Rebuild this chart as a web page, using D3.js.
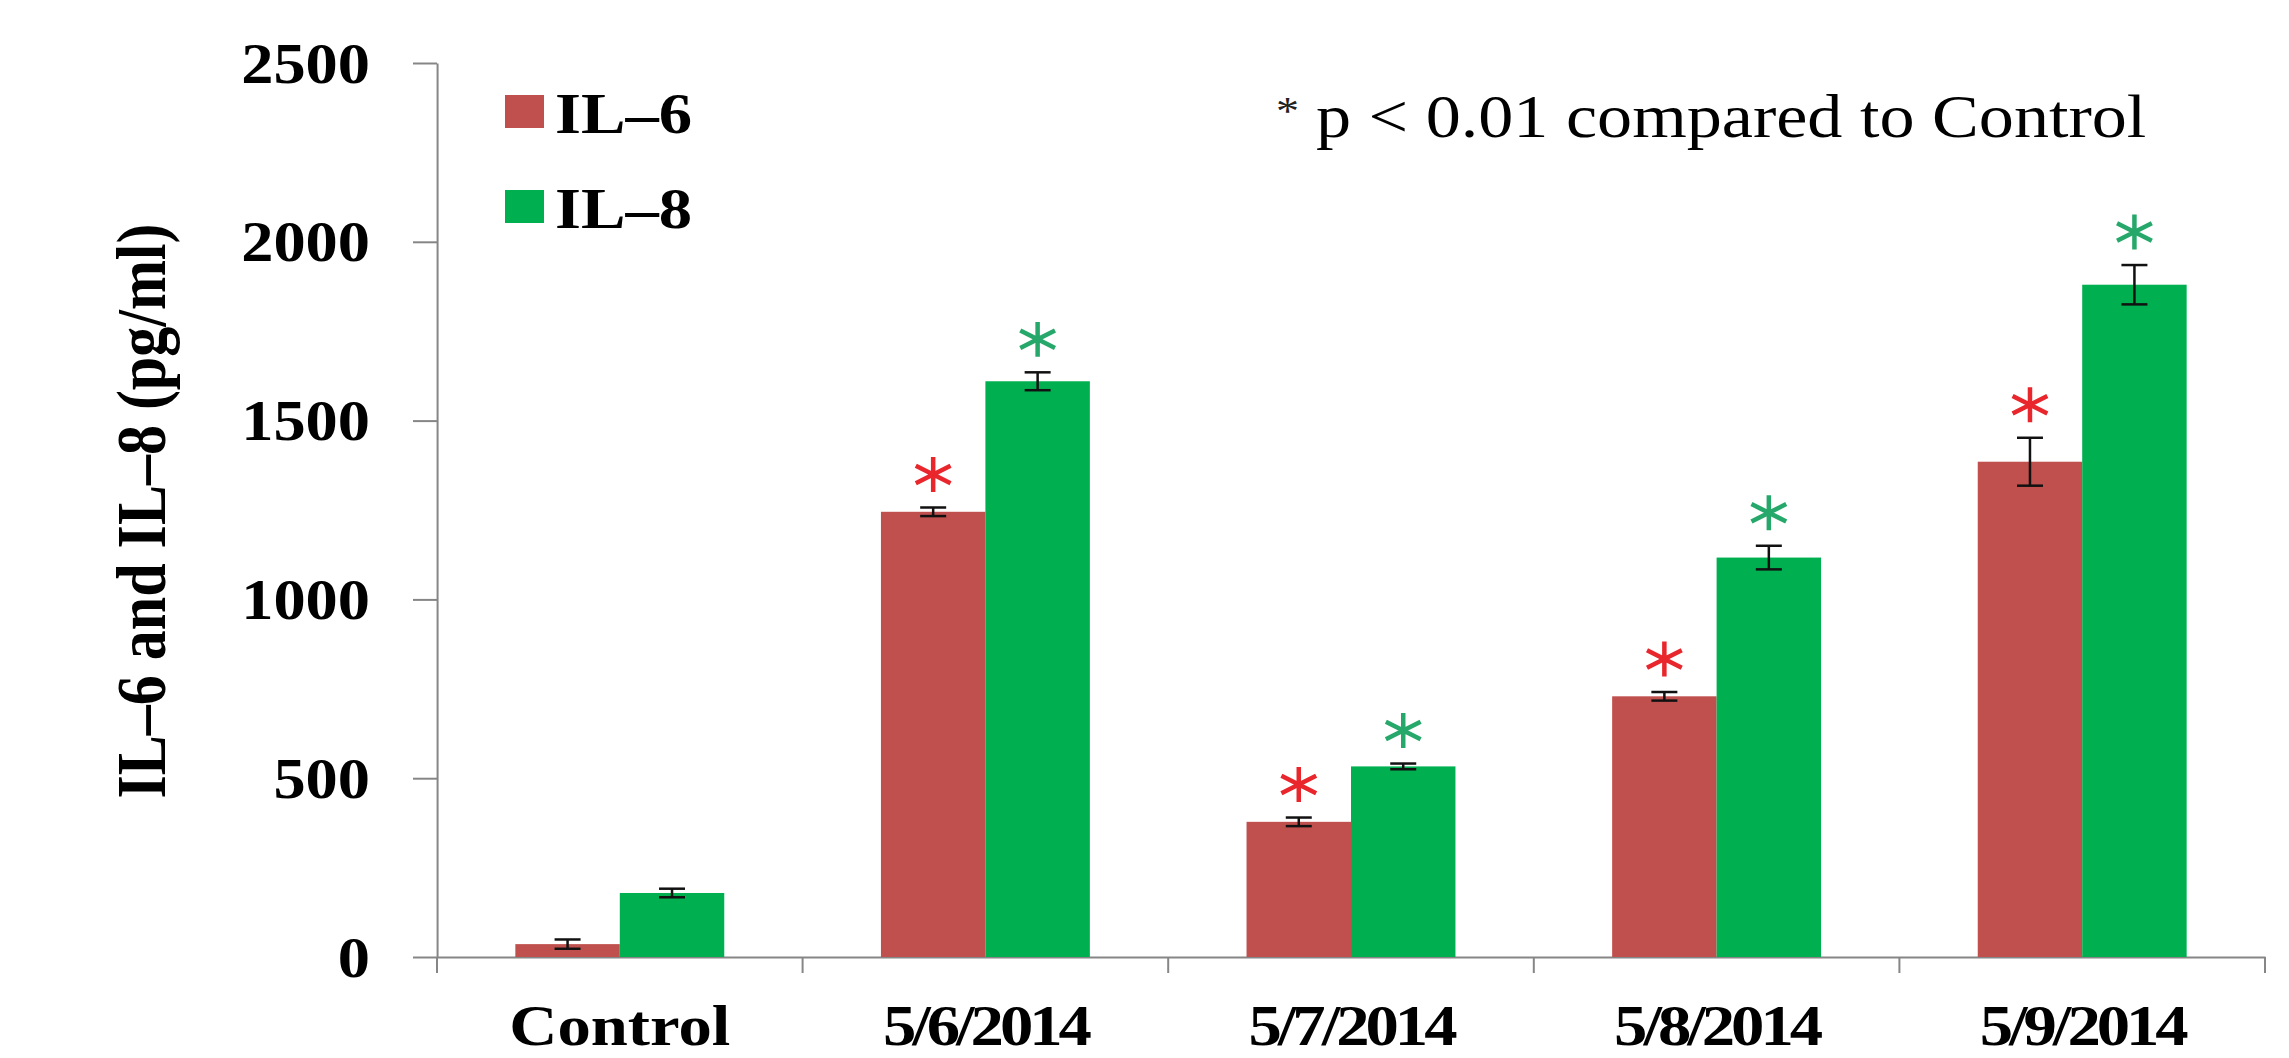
<!DOCTYPE html>
<html>
<head>
<meta charset="utf-8">
<script src="https://cdn.jsdelivr.net/npm/d3@7"></script>
<style>
  html, body { margin: 0; padding: 0; background: #fff; overflow: hidden; }
  svg { display: block; }
</style>
</head>
<body>
<svg id="chart" width="2289" height="1058"></svg>
<script>
// ---- data -------------------------------------------------------------
const categories = ["Control", "5/6/2014", "5/7/2014", "5/8/2014", "5/9/2014"];
const seriesNames = ["IL–6", "IL–8"];
const il6Values = [36, 1245, 378, 729, 1385];
const il6Errors = [13, 12, 12, 12, 67];
const il8Values = [179, 1610, 533, 1117, 1880];
const il8Errors = [12, 25, 8, 33, 55];
const il6Significant = [false, true, true, true, true];
const il8Significant = [false, true, true, true, true];
const yTicks = [0, 500, 1000, 1500, 2000, 2500];
const yTitle = "IL–6 and IL–8 (pg/ml)";
const noteText = "p < 0.01 compared to Control";

// ---- styling ------------------------------------------------------------
const barColors = ["#c0504d", "#00b050"];
const starColors = ["#e8262b", "#27a86b"];
const serif = "'Liberation Serif', 'Times New Roman', serif";
const axisColor = "#868686";

// The figure is drawn in a horizontally widened frame.
const sx = 1.15;
const px = v => v / sx;

const svg = d3.select("#chart");
const g = svg.append("g").attr("transform", `scale(${sx},1)`);

// ---- scales -------------------------------------------------------------
const x0 = d3.scaleBand().domain(categories).range([px(437), px(2265)]);
const groupFrac = 2 / 3.5;
const groupOffset = x0.bandwidth() * (1 - groupFrac) / 2;
const x1 = d3.scaleBand().domain(seriesNames).range([0, x0.bandwidth() * groupFrac]);
const y = d3.scaleLinear().domain([0, 2500]).range([957, 63]);

const rows = categories.map((c, i) => ({
  cat: c,
  bars: [
    { s: seriesNames[0], k: 0, v: il6Values[i], e: il6Errors[i], sig: il6Significant[i] },
    { s: seriesNames[1], k: 1, v: il8Values[i], e: il8Errors[i], sig: il8Significant[i] }
  ]
}));

// ---- y axis -------------------------------------------------------------
const yAxis = g.append("g")
  .attr("transform", `translate(${px(437)},0)`)
  .call(d3.axisLeft(y).tickValues(yTicks).tickSize(px(24)).tickSizeOuter(0)
    .tickPadding(px(43)).tickFormat(d3.format("d")));
yAxis.selectAll("path, line")
  .attr("stroke", axisColor).attr("stroke-width", 2)
  .attr("vector-effect", "non-scaling-stroke");
yAxis.selectAll("text")
  .attr("font-family", serif).attr("font-weight", "bold")
  .attr("font-size", 56).attr("fill", "#000").attr("dy", "0.34em");

// ---- x axis -------------------------------------------------------------
const xAxis = g.append("g")
  .attr("transform", `translate(0,${y(0)})`)
  .call(d3.axisBottom(x0).tickSize(0).tickSizeOuter(0));
xAxis.select(".domain")
  .attr("stroke", axisColor).attr("stroke-width", 2)
  .attr("vector-effect", "non-scaling-stroke");
xAxis.selectAll("text")
  .attr("font-family", serif).attr("font-weight", "bold")
  .attr("font-size", 58).attr("fill", "#000")
  .attr("y", 88).attr("dy", 0)
  .attr("letter-spacing", d => d.includes("/") ? -3.5 : 0);

// tick marks between the categories
const boundaries = categories.map(c => x0(c)).concat([x0.range()[1]]);
xAxis.selectAll(".sep").data(boundaries).join("line")
  .attr("class", "sep")
  .attr("x1", d => d).attr("x2", d => d)
  .attr("y1", 0).attr("y2", 16)
  .attr("stroke", axisColor).attr("stroke-width", 2)
  .attr("vector-effect", "non-scaling-stroke");

// ---- bars ---------------------------------------------------------------
const groups = g.append("g").selectAll("g.cat").data(rows).join("g")
  .attr("class", "cat")
  .attr("transform", d => `translate(${x0(d.cat) + groupOffset},0)`);

groups.selectAll("rect").data(d => d.bars).join("rect")
  .attr("x", d => x1(d.s))
  .attr("y", d => y(d.v))
  .attr("width", x1.bandwidth())
  .attr("height", d => y(0) - y(d.v))
  .attr("fill", d => barColors[d.k]);

// ---- error bars ---------------------------------------------------------
const capHalf = px(13);
const errs = groups.selectAll("g.err").data(d => d.bars).join("g")
  .attr("class", "err")
  .attr("transform", d => `translate(${x1(d.s) + x1.bandwidth() / 2},0)`);
errs.append("line")
  .attr("x1", 0).attr("x2", 0)
  .attr("y1", d => y(d.v + d.e)).attr("y2", d => y(d.v - d.e));
errs.append("line")
  .attr("x1", -capHalf).attr("x2", capHalf)
  .attr("y1", d => y(d.v + d.e)).attr("y2", d => y(d.v + d.e));
errs.append("line")
  .attr("x1", -capHalf).attr("x2", capHalf)
  .attr("y1", d => y(d.v - d.e)).attr("y2", d => y(d.v - d.e));
errs.selectAll("line")
  .attr("stroke", "#111").attr("stroke-width", 2.5)
  .attr("vector-effect", "non-scaling-stroke");

// ---- significance stars -------------------------------------------------
const star = d3.symbol().type(d3.symbolAsterisk).size(860);
groups.selectAll("path.star").data(d => d.bars.filter(b => b.sig)).join("path")
  .attr("class", "star")
  .attr("d", star)
  .attr("transform", d => `translate(${x1(d.s) + x1.bandwidth() / 2},${y(d.v + d.e) - 33})`)
  .attr("fill", "none")
  .attr("stroke", d => starColors[d.k])
  .attr("stroke-width", 4.5)
  .attr("vector-effect", "non-scaling-stroke");

// ---- legend -------------------------------------------------------------
const legend = g.append("g").selectAll("g").data(seriesNames).join("g")
  .attr("transform", (d, i) => `translate(0,${i * 95})`);
legend.append("rect")
  .attr("x", px(505)).attr("y", 95)
  .attr("width", px(39)).attr("height", 33)
  .attr("fill", (d, i) => barColors[i]);
legend.append("text")
  .attr("x", px(555)).attr("y", 133)
  .attr("font-family", serif).attr("font-weight", "bold")
  .attr("font-size", 58).attr("fill", "#000")
  .text(d => d);

// ---- significance note --------------------------------------------------
g.append("text")
  .attr("x", px(1276)).attr("y", 124)
  .attr("font-family", serif).attr("font-size", 40).attr("fill", "#222")
  .text("*");
g.append("text")
  .attr("x", px(1316)).attr("y", 137)
  .attr("font-family", serif).attr("font-size", 61).attr("fill", "#000")
  .text(noteText);

// ---- y axis title -------------------------------------------------------
g.append("text")
  .attr("transform", `translate(${px(165)},511) rotate(-90)`)
  .attr("text-anchor", "middle")
  .attr("font-family", serif).attr("font-weight", "bold")
  .attr("font-size", 60).attr("fill", "#000")
  .text(yTitle);
</script>
</body>
</html>
